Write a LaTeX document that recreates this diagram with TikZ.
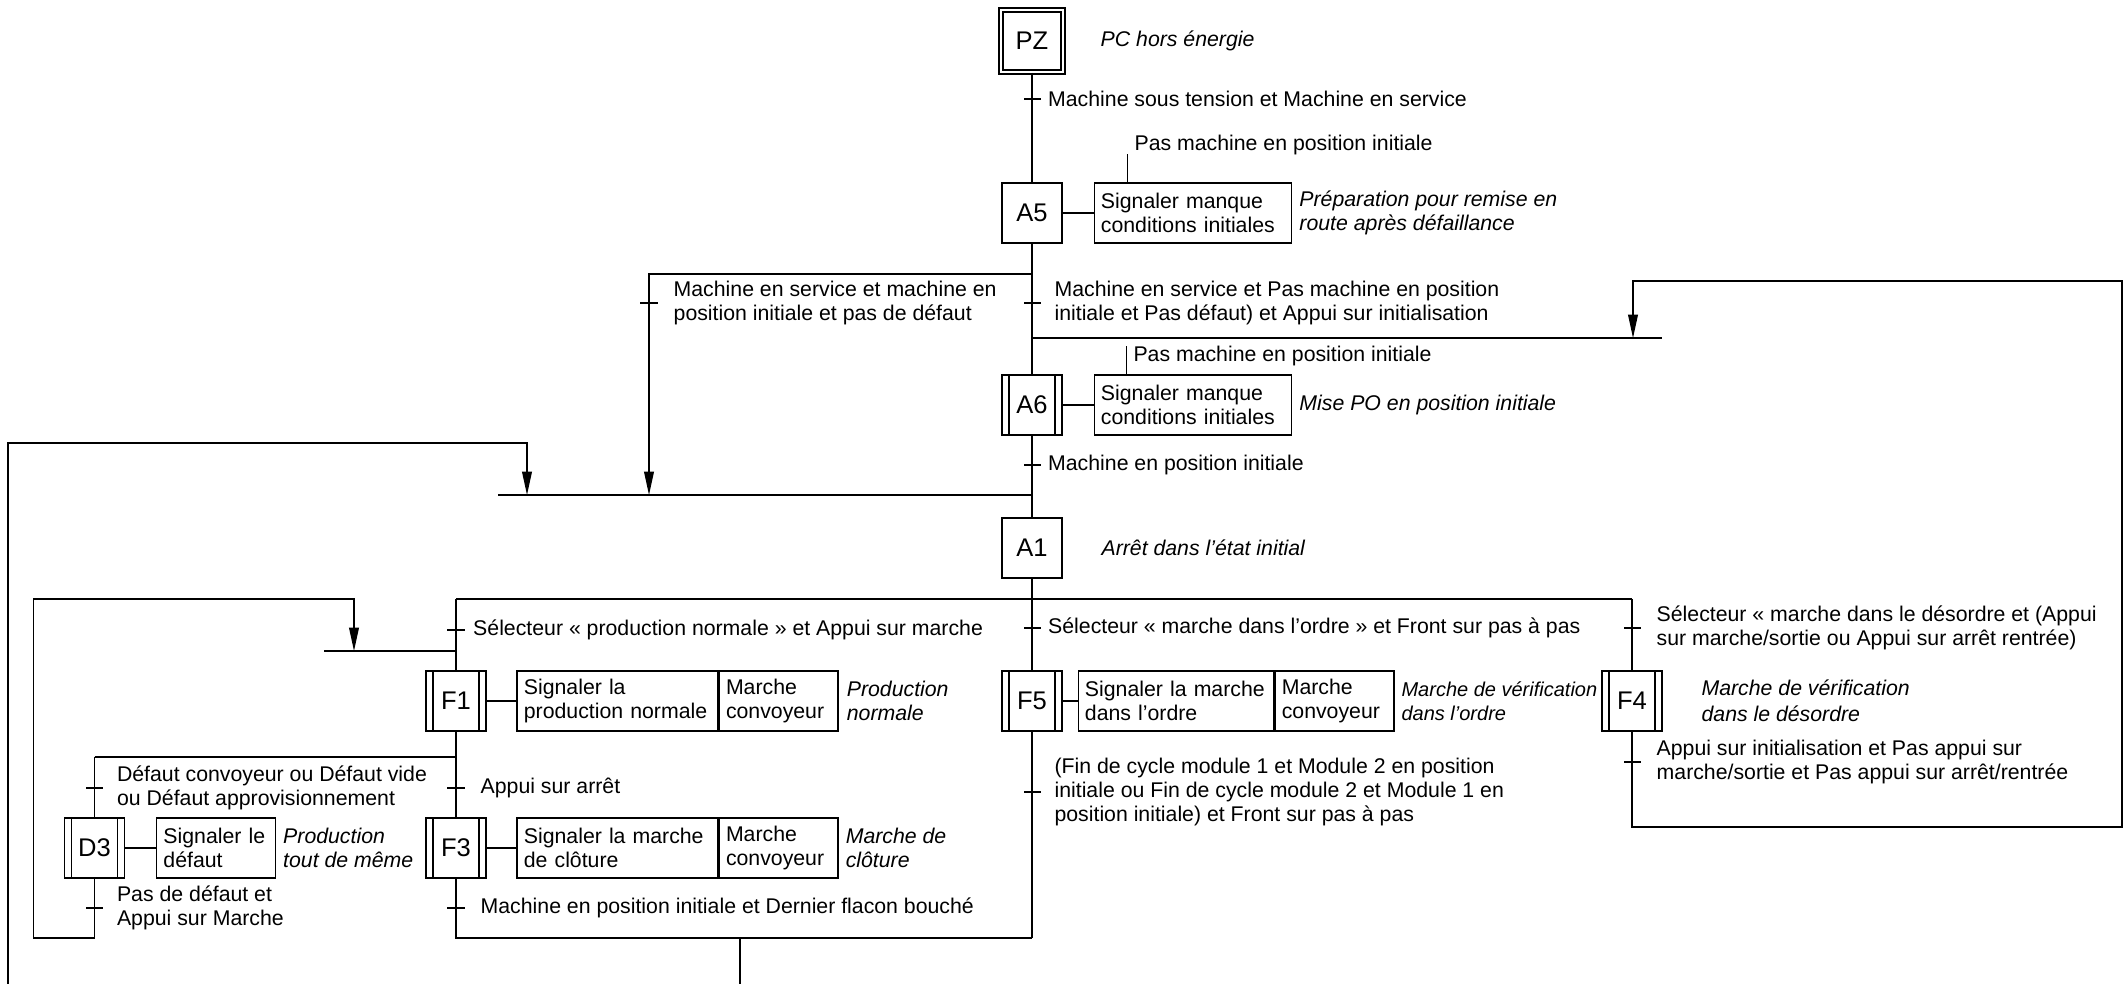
\documentclass[tikz,border=0pt]{standalone}
\usepackage{fontspec}
\setmainfont{Liberation Sans}
\usetikzlibrary{arrows.meta,positioning}

\begin{document}
\begin{tikzpicture}[
      x=0.47pt, y=-0.47pt,
      line width=0.6pt,
      node distance=2pt,
      every node/.style={font=\fontsize{10}{11.5}\selectfont},
      etape/.style={draw, minimum width=28.2pt, minimum height=28.2pt, inner sep=0pt, font=\fontsize{12}{14}\selectfont},
      etapeinit/.style={etape, double, line width=0.8pt, double distance=1.3pt, minimum width=29.2pt, minimum height=29.2pt},
      action/.style={draw, text width=#1, minimum height=28.2pt, inner xsep=3.2pt, inner ysep=1pt, align=left},
      action/.default=49.5pt,
      comm/.style={inner xsep=3pt, align=left, font=\fontsize{10}{11.5}\selectfont\itshape},
      lbl/.style={inner sep=1pt, align=left},
      recep/.style={fill, minimum width=8pt, minimum height=1.4pt, inner sep=0pt},
      fleche/.style={-{Triangle[length=11pt, width=4.6pt]}}
    ]
      \useasboundingbox (0,0) rectangle (2127,984);

      % etapes
      \node[etapeinit] (PZ) at (1032,41) {PZ};
      \node[etape] (A5) at (1032,213) {A5};
      \node[etape] (A6) at (1032,405) {A6};
      \node[etape] (A1) at (1032,548) {A1};
      \node[etape] (F1) at (456,701) {F1};
      \node[etape] (F5) at (1032,701) {F5};
      \node[etape] (F4) at (1632,701) {F4};
      \node[etape] (D3) at (94.5,848) {D3};
      \node[etape] (F3) at (456,848) {F3};

      \foreach \s in {A6,F1,F5,F4,D3,F3}
        \draw ([xshift=3.6pt]\s.north west) -- ([xshift=3.6pt]\s.south west)
              ([xshift=-3.6pt]\s.north east) -- ([xshift=-3.6pt]\s.south east);

      % actions
      \node[action=86.5pt, right=14.5pt of A5] (aA5) {Signaler manque\\conditions initiales};
      \node[action=86.5pt, right=14.5pt of A6] (aA6) {Signaler manque\\conditions initiales};
      \node[action=88pt, right=14pt of F1] (aF1) {Signaler la\\production normale};
      \node[action, right=0pt of aF1] (bF1) {Marche\\convoyeur};
      \node[action=85.5pt, right=7pt of F5] (aF5) {Signaler la marche\\dans l’ordre};
      \node[action, right=0pt of aF5] (bF5) {Marche\\convoyeur};
      \node[action, right=14.5pt of D3] (aD3) {Signaler le\\défaut};
      \node[action=88pt, right=14pt of F3] (aF3) {Signaler la marche\\de clôture};
      \node[action, right=0pt of aF3] (bF3) {Marche\\convoyeur};

      \foreach \s in {A5,A6,F1,F5,D3,F3}
        \draw (\s) -- (a\s);

      \draw ([xshift=16pt]aA5.north west) -- ++(0,-28) coordinate (cA5);
      \node[lbl, anchor=base west] at ([xshift=2pt, yshift=1.6pt]cA5) {Pas machine en position initiale};
      \draw ([xshift=15.5pt]aA6.north west) -- ++(0,-28) coordinate (cA6);
      \node[lbl, anchor=base west] at ([xshift=2pt, yshift=-7pt]cA6) {Pas machine en position initiale};

      % commentaires
      \node[comm, right=14pt of PZ] {PC hors énergie};
      \node[comm, right=0pt of aA5] {Préparation pour remise en\\route après défaillance};
      \node[comm, right=0pt of aA6] {Mise PO en position initiale};
      \node[comm, right=15pt of A1] {Arrêt dans l’état initial};
      \node[comm, right=0.5pt of bF1] {Production\\normale};
      \node[comm, right=0pt of bF5, font=\fontsize{9.4}{11.5}\selectfont\itshape] {Marche de vérification\\dans l’ordre};
      \node[comm, right=15pt of F4, font=\fontsize{10}{12}\selectfont\itshape] {Marche de vérification\\dans le désordre};
      \node[comm, right=0pt of aD3] {Production\\tout de même};
      \node[comm, right=0pt of bF3] {Marche de\\clôture};

      % points de liaison
      \coordinate (jL) at (1032,274);
      \coordinate (aL) at (649,495);
      \coordinate (cvL) at (498,495);
      \coordinate (cvR) at (1032,495);
      \coordinate (jR0) at (1032,338);
      \coordinate (jR1) at (1662,338);
      \coordinate (aR) at (1633,338);
      \coordinate (rb) at (2122,827);
      \coordinate (rt) at (1633,281);
      \coordinate (lb) at (8,984);
      \coordinate (lt) at (527,443);
      \coordinate (aB) at (527,495);
      \coordinate (dvL) at (456,599);
      \coordinate (dvR) at (1632,599);
      \coordinate (d1) at (324,651);
      \coordinate (d2) at (456,651);
      \coordinate (aD) at (354,651);
      \coordinate (lp1) at (33.7,938);
      \coordinate (lp2) at (354,599);
      \coordinate (ds) at (94.5,757);
      \coordinate (dsR) at (456,757);
      \coordinate (cb) at (1032,938);
      \coordinate (cbx) at (740,938);
      \coordinate (cbb) at (740,984);

      % liaisons
      \draw (PZ) -- (A5);
      \draw (A5) -- (A6);
      \draw (A6) -- (A1);
      \draw (A1) -- (F5);
      \draw (F5) -- (cb);
      \draw[fleche] (jL) -| (aL);
      \draw (cvL) -- (cvR);
      \draw (jR0) -- (jR1);
      \draw[fleche] (F4.south) |- (rb) |- (rt) -- (aR);
      \draw[fleche] (lb) |- (lt) -- (aB);
      \draw (dvL) -- (dvR);
      \draw (dvL) -- (F1);
      \draw (dvR) -- (F4);
      \draw (d1) -- (d2);
      \draw[fleche] (D3.south) |- (lp1) |- (lp2) -- (aD);
      \draw (F1) -- (F3);
      \draw (ds) -- (dsR);
      \draw (ds) -- (D3);
      \draw (F3.south) |- (cb);
      \draw (cbx) -- (cbb);

      % transitions
      \foreach \n/\x/\y in {t0/1032/99, tL/649/303, t1/1032/303, t2/1032/465, t3/456/630,
                            t4/1032/628, t5/1632/628, t6/94.5/788, t7/456/788, t8/1032/792,
                            t9/1632/762, t10/94.5/908, t11/456/908}
        \node[recep] (\n) at (\x,\y) {};

      \node[lbl, right=of t0] {Machine sous tension et Machine en service};
      \node[lbl, right=6pt of tL] {Machine en service et machine en\\position initiale et pas de défaut};
      \node[lbl, right=5pt of t1] {Machine en service et Pas machine en position\\initiale et Pas défaut) et Appui sur initialisation};
      \node[lbl, right=of t2] {Machine en position initiale};
      \node[lbl, right=2.5pt of t3] {Sélecteur « production normale » et Appui sur marche};
      \node[lbl, right=of t4] {Sélecteur « marche dans l’ordre » et Front sur pas à pas};
      \node[lbl, right=6pt of t5] {Sélecteur « marche dans le désordre et (Appui\\sur marche/sortie ou Appui sur arrêt rentrée)};
      \node[lbl, right=5pt of t6] {Défaut convoyeur ou Défaut vide\\ou Défaut approvisionnement};
      \node[lbl, right=6pt of t7] {Appui sur arrêt};
      \node[lbl, right=5pt of t8] {(Fin de cycle module 1 et Module 2 en position\\initiale ou Fin de cycle module 2 et Module 1 en\\position initiale) et Front sur pas à pas};
      \node[lbl, right=6pt of t9] {Appui sur initialisation et Pas appui sur\\marche/sortie et Pas appui sur arrêt/rentrée};
      \node[lbl, right=5pt of t10] {Pas de défaut et\\Appui sur Marche};
      \node[lbl, right=6pt of t11] {Machine en position initiale et Dernier flacon bouché};
    \end{tikzpicture}
\end{document}
